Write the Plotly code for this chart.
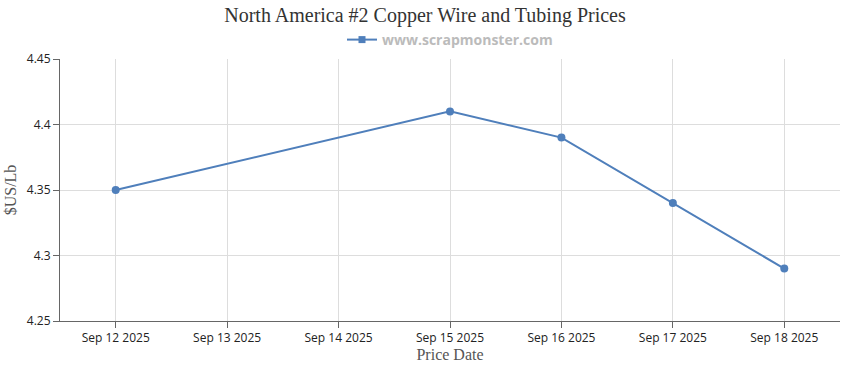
import plotly.graph_objects as go

dates = ["2025-09-12", "2025-09-15", "2025-09-16", "2025-09-17", "2025-09-18"]
prices = [4.35, 4.41, 4.39, 4.34, 4.29]
tick_dates = ["2025-09-12", "2025-09-13", "2025-09-14", "2025-09-15",
              "2025-09-16", "2025-09-17", "2025-09-18"]
tick_labels = ["Sep 12 2025", "Sep 13 2025", "Sep 14 2025", "Sep 15 2025",
               "Sep 16 2025", "Sep 17 2025", "Sep 18 2025"]
series_name = "www.scrapmonster.com"
title = "North America #2 Copper Wire and Tubing Prices"

color = "#4f7fbb"

fig = go.Figure()
fig.add_trace(go.Scatter(
    x=dates, y=prices, mode="lines+markers", name=series_name,
    line=dict(color=color, width=2),
    marker=dict(color=color, size=8, symbol="circle"),
    showlegend=False,
))
# legend entry (square symbol, as in the reference legend)
fig.add_trace(go.Scatter(
    x=[None], y=[None], mode="lines+markers", name=series_name,
    line=dict(color=color, width=2),
    marker=dict(color=color, size=7, symbol="square"),
    showlegend=True,
))

fig.update_layout(
    width=850, height=370,
    margin=dict(l=60, r=10, t=59, b=49, autoexpand=False),
    paper_bgcolor="white", plot_bgcolor="white",
    title=dict(text=title, x=0.5, xanchor="center", y=1 - 15 / 370, yanchor="middle",
               font=dict(family="Liberation Serif, Times New Roman, serif", size=20, color="#333")),
    showlegend=True,
    legend=dict(orientation="h", x=0.5, xanchor="center", yref="container",
                y=1 - 40 / 370, yanchor="middle",
                font=dict(family="Open Sans, Verdana, sans-serif", size=14, color="#bbbbbb", weight="bold"),
                itemwidth=30, bgcolor="rgba(0,0,0,0)"),
    xaxis=dict(
        type="date", automargin=False,
        range=["2025-09-11 12:00", "2025-09-18 12:00"],
        tickvals=tick_dates, ticktext=tick_labels,
        showgrid=True, gridcolor="#dddddd", gridwidth=1,
        showline=True, linecolor="#666", linewidth=1,
        ticks="outside", ticklen=6, tickcolor="#666",
        tickfont=dict(family="Open Sans, sans-serif", size=12, color="#222"),
        title=dict(text="Price Date", standoff=0,
                   font=dict(family="Liberation Serif, Times New Roman, serif", size=16, color="#555")),
        zeroline=False,
    ),
    yaxis=dict(
        automargin=False,
        range=[4.25, 4.45], dtick=0.05, tick0=4.25,
        showgrid=True, gridcolor="#dddddd", gridwidth=1,
        showline=True, linecolor="#666", linewidth=1,
        ticks="outside", ticklen=6, tickcolor="#666",
        tickfont=dict(family="Open Sans, sans-serif", size=12, color="#222"),
        title=dict(text="$US/Lb", standoff=6,
                   font=dict(family="Liberation Serif, Times New Roman, serif", size=16, color="#555")),
        zeroline=False,
    ),
)

fig.write_html("out.html", config={"displayModeBar": False},
               post_script="document.body.style.margin='0';")
